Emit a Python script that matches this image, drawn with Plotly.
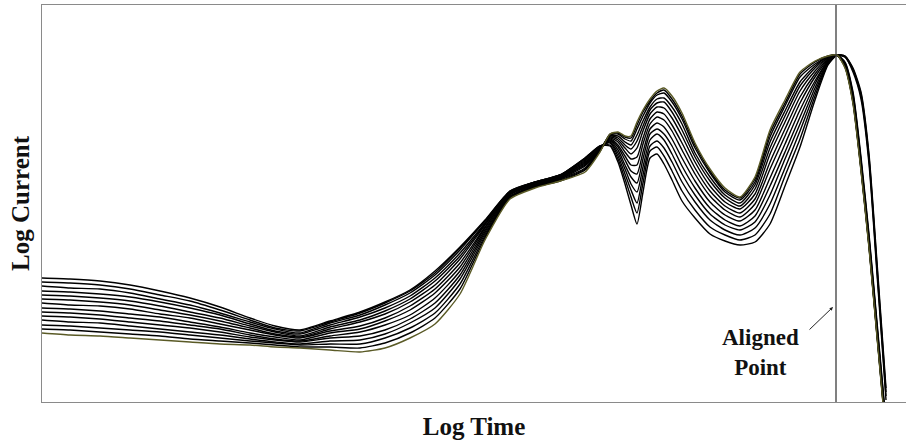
import plotly.graph_objects as go

# Log time grid (arbitrary units)
log_time = [42, 70, 100, 130, 160, 190, 220, 250, 275, 300,
            330, 360, 385, 410, 435, 460, 485, 510, 535, 560,
            585, 600, 610, 618, 625, 631, 637, 643, 650, 657,
            664, 672, 682, 695, 710, 725, 740, 755, 770, 785,
            800, 815, 828, 837, 845, 853, 861, 869, 877, 886]

# Log current (arbitrary units): one row per time point, one value per curve (14 curves)
log_current_rows = [
    [124, 120, 116, 111, 107, 103, 99, 94, 90, 86, 82, 77, 73, 69],
    [123, 119, 114, 110, 106, 102, 97, 93, 89, 85, 80, 76, 72, 67],
    [121, 117, 113, 108, 104, 100, 96, 91, 87, 83, 79, 74, 70, 66],
    [117, 113, 109, 105, 101, 97, 93, 88, 84, 80, 76, 72, 68, 64],
    [111, 107, 103, 100, 96, 92, 88, 85, 81, 77, 73, 70, 66, 62],
    [104, 101, 97, 94, 90, 87, 84, 80, 77, 74, 70, 67, 63, 60],
    [95, 92, 89, 87, 84, 81, 78, 75, 73, 70, 67, 64, 61, 58],
    [84, 82, 80, 78, 76, 74, 72, 69, 67, 65, 63, 61, 59, 57],
    [76, 74, 73, 71, 70, 68, 67, 65, 63, 62, 60, 59, 57, 55],
    [72, 71, 69, 68, 66, 65, 64, 62, 61, 60, 58, 57, 55, 54],
    [81, 80, 79, 77, 75, 73, 71, 69, 66, 64, 61, 58, 55, 52],
    [90, 89, 87, 85, 82, 80, 76, 73, 70, 66, 62, 58, 54, 50],
    [100, 99, 97, 94, 91, 88, 84, 81, 77, 72, 68, 64, 59, 54],
    [112, 111, 109, 106, 103, 100, 96, 92, 87, 83, 79, 74, 69, 64],
    [131, 129, 127, 124, 121, 117, 113, 109, 104, 99, 94, 89, 84, 78],
    [155, 154, 152, 149, 146, 143, 139, 135, 131, 127, 123, 118, 113, 108],
    [182, 181, 181, 179, 178, 177, 175, 174, 172, 170, 168, 166, 164, 162],
    [211, 211, 210, 210, 209, 209, 208, 208, 207, 206, 205, 205, 204, 203],
    [220, 220, 220, 219, 219, 218, 218, 217, 217, 216, 216, 215, 215, 214],
    [227, 227, 227, 226, 226, 225, 225, 224, 224, 223, 223, 222, 221, 221],
    [244, 244, 243, 242, 241, 240, 239, 238, 237, 236, 234, 233, 232, 230],
    [256, 256, 256, 255, 255, 254, 254, 253, 253, 252, 252, 251, 251, 250],
    [256, 257, 259, 260, 261, 262, 263, 264, 265, 266, 266, 267, 268, 268],
    [240, 243, 246, 249, 252, 255, 257, 260, 262, 264, 266, 268, 269, 270],
    [218, 223, 228, 233, 237, 242, 246, 250, 254, 257, 260, 263, 265, 266],
    [197, 205, 212, 218, 225, 231, 237, 243, 248, 253, 257, 261, 264, 266],
    [178, 189, 199, 210, 219, 228, 237, 245, 254, 261, 267, 273, 277, 280],
    [210, 219, 227, 235, 243, 250, 258, 264, 271, 276, 281, 286, 290, 292],
    [244, 251, 256, 262, 268, 273, 278, 283, 288, 292, 295, 299, 301, 303],
    [248, 255, 261, 268, 273, 279, 285, 290, 295, 299, 303, 307, 309, 311],
    [238, 246, 254, 262, 268, 275, 282, 288, 294, 300, 304, 309, 312, 314],
    [222, 231, 240, 248, 256, 263, 271, 277, 284, 290, 295, 300, 303, 306],
    [201, 211, 220, 228, 236, 244, 252, 259, 266, 272, 278, 283, 286, 289],
    [184, 192, 200, 207, 214, 221, 228, 234, 240, 245, 249, 254, 257, 259],
    [168, 175, 182, 188, 194, 200, 206, 211, 216, 221, 225, 229, 231, 233],
    [161, 167, 172, 177, 182, 187, 192, 196, 200, 204, 207, 210, 212, 214],
    [157, 162, 167, 172, 176, 181, 185, 189, 193, 196, 199, 202, 204, 205],
    [160, 167, 174, 180, 186, 192, 198, 203, 208, 213, 217, 220, 223, 225],
    [178, 188, 198, 207, 216, 224, 233, 240, 248, 254, 260, 265, 269, 272],
    [216, 226, 234, 243, 250, 258, 266, 273, 280, 286, 291, 296, 299, 302],
    [255, 263, 271, 278, 285, 292, 299, 305, 311, 316, 320, 325, 328, 330],
    [302, 306, 310, 314, 318, 321, 325, 328, 331, 334, 336, 338, 340, 341],
    [337, 338, 339, 340, 341, 341, 342, 343, 344, 344, 345, 345, 346, 346],
    [347, 347, 347, 347, 347, 347, 347, 347, 347, 347, 347, 347, 347, 347],
    [346, 346, 345, 345, 340, 339, 338, 337, 337, 336, 336, 335, 335, 334],
    [334, 333, 332, 330, 310, 308, 306, 304, 303, 302, 301, 300, 299, 298],
    [310, 308, 306, 303, 245, 242, 240, 238, 236, 235, 234, 233, 232, 231],
    [248, 245, 242, 238, 168, 165, 163, 161, 159, 158, 157, 156, 155, 154],
    [140, 136, 132, 128, 80, 77, 75, 73, 71, 69, 68, 67, 66, 65],
    [14, 10, 6, 2, -20, -23, -25, -27, -29, -31, -32, -33, -34, -35],
]

curve_colors = ["#000000"] * 13 + ["#5a5a26"]
aligned_time = 836
x_title = "Log Time"
y_title = "Log Current"
x_range = [42, 906]
y_range = [0, 397]

curves = [list(c) for c in zip(*log_current_rows)]

fig = go.Figure()
for ys, col in zip(curves, curve_colors):
    fig.add_trace(go.Scatter(
        x=log_time, y=ys, mode="lines",
        line=dict(color=col, width=1.4, shape="spline", smoothing=0.6),
        hoverinfo="skip", showlegend=False))

fig.add_shape(type="line", xref="x", yref="paper",
              x0=aligned_time, x1=aligned_time, y0=0, y1=1,
              line=dict(color="#3c3c3c", width=1.3))

fig.add_annotation(x=760, y=50, xref="x", yref="y", text="<b>Aligned</b><br><b>Point</b>",
                   showarrow=False, font=dict(family="Liberation Serif", size=23, color="#111"),
                   xanchor="center", yanchor="middle")
fig.add_annotation(x=833, y=95, ax=808, ay=71, xref="x", yref="y", axref="x", ayref="y",
                   text="", showarrow=True, arrowhead=2, arrowsize=0.7, arrowwidth=1,
                   arrowcolor="#222")

axis_font = dict(family="Liberation Serif", size=25, color="#111")
fig.update_layout(
    width=906, height=440,
    margin=dict(l=42, r=0, t=5, b=38, pad=0, autoexpand=False),
    paper_bgcolor="white", plot_bgcolor="white",
    xaxis=dict(range=x_range, showgrid=False, zeroline=False, showticklabels=False,
               ticks="", showline=True, linecolor="#8a8a8a", linewidth=1, mirror=True,
               automargin=False,
               title=dict(text="<b>" + x_title + "</b>", font=axis_font, standoff=15)),
    yaxis=dict(range=y_range, showgrid=False, zeroline=False, showticklabels=False,
               ticks="", showline=True, linecolor="#8a8a8a", linewidth=1, mirror=False,
               automargin=False,
               title=dict(text="<b>" + y_title + "</b>", font=axis_font, standoff=4)),
)

fig.write_html("out.html", config={"displayModeBar": False},
               post_script="document.body.style.margin='0px';document.body.style.overflow='hidden';")
